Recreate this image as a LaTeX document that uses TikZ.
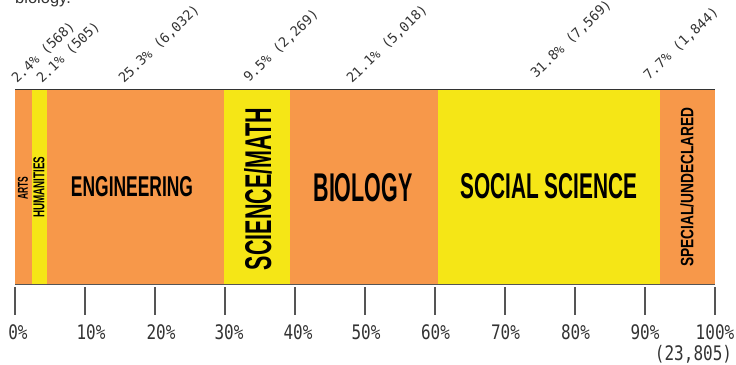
\documentclass[tikz,border=0pt]{standalone}
\usepackage{graphicx}
\usepackage{fontspec}
\setmainfont{Liberation Sans}
\newfontfamily\monof{DejaVu Sans Mono}
\definecolor{segorange}{HTML}{F7984A}
\definecolor{segyellow}{HTML}{F5E616}
\definecolor{inkgray}{HTML}{333333}
\definecolor{axgray}{HTML}{555555}
\newcommand{\barlbl}[3]{\resizebox{#1pt}{#2pt}{\bfseries #3}}
\newcommand{\ticktxt}[1]{\scalebox{1}[1.25]{#1}}
\tikzset{
  seglabel/.style={inner sep=0pt, text=black},
  ticklbl/.style={inner sep=0pt, text=inkgray, font=\monof\fontsize{16}{16}\selectfont},
  pctlbl/.style={inner sep=0pt, text=inkgray, anchor=base west, rotate=44, font=\monof\fontsize{13.5}{13.5}\selectfont},
  tickline/.style={draw=axgray, line width=1.2pt},
}
\begin{document}
\begin{tikzpicture}[x=1pt,y=-1pt]
\useasboundingbox (0,0) rectangle (736,364);
% caption remnant
\node[inner sep=0pt, anchor=base west, text=inkgray, font=\fontsize{16.5}{16.5}\selectfont] (cap) at (15,4) {biology.};
% segments
\fill[segorange] (15,90) rectangle (31.8,284);
\fill[segyellow] (31.8,90) rectangle (46.5,284);
\fill[segorange] (46.5,90) rectangle (223.6,284);
\fill[segyellow] (223.6,90) rectangle (290,284);
\fill[segorange] (290,90) rectangle (437.8,284);
\fill[segyellow] (437.8,90) rectangle (660.4,284);
\fill[segorange] (660.4,90) rectangle (715,284);
% bar border lines
\draw[draw=inkgray, line width=1.5pt] (15,89.5) -- (715,89.5);
\draw[draw=axgray, line width=1.6pt] (15,284.5) -- (715,284.5);
% segment labels
\node[seglabel, rotate=90] (arts) at (23,188) {\barlbl{23}{10}{ARTS}};
\node[seglabel, rotate=90] (hum) at (39,187) {\barlbl{61}{11}{HUMANITIES}};
\node[seglabel] (eng) at (132,187) {\barlbl{122}{20}{ENGINEERING}};
\node[seglabel, rotate=90] (sci) at (258,189) {\barlbl{162}{27}{SCIENCE/MATH}};
\node[seglabel] (bio) at (363,188) {\barlbl{99}{28}{BIOLOGY}};
\node[seglabel] (soc) at (549,186) {\barlbl{177}{25}{SOCIAL SCIENCE}};
\node[seglabel, rotate=90] (spec) at (687,187) {\barlbl{159}{13}{SPECIAL/UNDECLARED}};
% percentage labels
\node[pctlbl] (p1) at (17,84) {2.4\% (568)};
\node[pctlbl] (p2) at (42,84) {2.1\% (505)};
\node[pctlbl] (p3) at (124,84) {25.3\% (6,032)};
\node[pctlbl] (p4) at (249,83) {9.5\% (2,269)};
\node[pctlbl] (p5) at (352,84) {21.1\% (5,018)};
\node[pctlbl] (p6) at (536,79) {31.8\% (7,569)};
\node[pctlbl] (p7) at (649,81) {7.7\% (1,844)};
% ticks
\foreach \k in {0,...,10} {
  \coordinate (ta\k) at ({15+70*\k},287);
  \coordinate (tb\k) at ({15+70*\k},315);
  \draw[tickline] (ta\k) -- (tb\k);
}
% tick labels
\node[ticklbl] (l0) at (18,332.5) {\ticktxt{0\%}};
\node[ticklbl] (l1) at (91,332.5) {\ticktxt{10\%}};
\node[ticklbl] (l2) at (161,332.5) {\ticktxt{20\%}};
\node[ticklbl] (l3) at (229,332.5) {\ticktxt{30\%}};
\node[ticklbl] (l4) at (298,332.5) {\ticktxt{40\%}};
\node[ticklbl] (l5) at (366,332.5) {\ticktxt{50\%}};
\node[ticklbl] (l6) at (435.5,332.5) {\ticktxt{60\%}};
\node[ticklbl] (l7) at (505.5,332.5) {\ticktxt{70\%}};
\node[ticklbl] (l8) at (575.5,332.5) {\ticktxt{80\%}};
\node[ticklbl] (l9) at (645,332.5) {\ticktxt{90\%}};
\node[ticklbl] (l10) at (715,332.5) {\ticktxt{100\%}};
\node[ticklbl] (tot) at (693.5,354.5) {\ticktxt{(23,805)}};
\end{tikzpicture}
\end{document}
